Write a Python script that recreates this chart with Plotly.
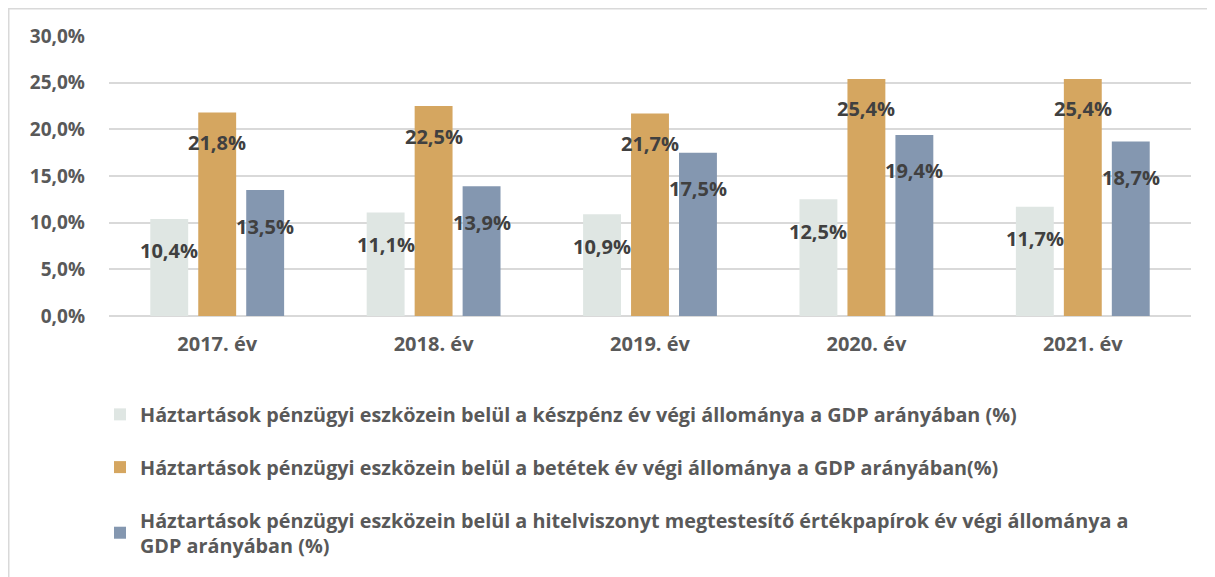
import plotly.graph_objects as go

categories = ["2017. év", "2018. év", "2019. év", "2020. év", "2021. év"]
keszpenz = [10.4, 11.1, 10.9, 12.5, 11.7]
betetek = [21.8, 22.5, 21.7, 25.4, 25.4]
hitelpapir = [13.5, 13.9, 17.5, 19.4, 18.7]
series_names = [
    "Háztartások pénzügyi eszközein belül a készpénz év végi állománya a GDP arányában (%)",
    "Háztartások pénzügyi eszközein belül a betétek év végi állománya a GDP arányában(%)",
    "Háztartások pénzügyi eszközein belül a hitelviszonyt megtestesítő értékpapírok év végi állománya a<br>GDP arányában (%)",
]
y_ticks = [0, 5, 10, 15, 20, 25, 30]
y_tick_labels = ["0,0%", "5,0%", "10,0%", "15,0%", "20,0%", "25,0%", "30,0%"]

colors = ["#dfe6e3", "#d5a660", "#8497b0"]
FONT = "Open Sans"
series = [keszpenz, betetek, hitelpapir]

W, H = 1207, 569
L, R, T, B = 101, 24, 28, 261
PW, PH = W - L - R, H - T - B

fig = go.Figure()
for i, (vals, name, col) in enumerate(zip(series, series_names, colors)):
    fig.add_trace(go.Bar(
        x=categories, y=vals, name=name, marker=dict(color=col, line=dict(width=0)),
        legendgroup=f"g{i}", hoverinfo="skip",
    ))

xshifts = [-48, 0, 48]
yshifts = [-32, -30, -36]
annotations = []
for i, vals in enumerate(series):
    for c, v in zip(categories, vals):
        annotations.append(dict(
            x=c, y=v, xref="x", yref="y", text=f"{v:.1f}%".replace(".", ","),
            showarrow=False, xshift=xshifts[i], yshift=yshifts[i], yanchor="middle",
            font=dict(family=FONT, size=20, color="#404040", weight="bold"),
        ))

fig.update_layout(
    width=W, height=H,
    margin=dict(l=L, r=R, t=T, b=B, autoexpand=False),
    paper_bgcolor="white", plot_bgcolor="white",
    barmode="group", bargap=0.335, bargroupgap=0.21,
    separators=", ",
    font=dict(family=FONT, color="#595959"),
    annotations=annotations,
    showlegend=True,
    legend=dict(
        xref="container", yref="container", x=92 / W, y=1 - 387 / H,
        xanchor="left", yanchor="top", traceorder="grouped", tracegroupgap=24,
        font=dict(family=FONT, size=19.8, color="#595959", weight="bold"),
        bgcolor="rgba(0,0,0,0)",
    ),
    shapes=[dict(type="rect", xref="paper", yref="paper", x0=(0.75 - L) / PW, x1=1 + 40 / PW,
                 y0=-(B + 20) / PH, y1=1 + (T - 0.75) / PH, line=dict(color="#d9d9d9", width=1.5),
                 fillcolor="rgba(0,0,0,0)", layer="below")],
)
fig.update_xaxes(
    showgrid=False, showline=False, ticks="", tickangle=0, automargin=False,
    tickfont=dict(family=FONT, size=20, color="#595959", weight="bold"),
    ticklabelstandoff=14,
)
fig.update_yaxes(
    range=[0, 30], tickvals=y_ticks, ticktext=y_tick_labels, automargin=False,
    showgrid=True, gridcolor="#d9d9d9", gridwidth=1.5,
    zeroline=True, zerolinecolor="#d9d9d9", zerolinewidth=2,
    showline=False, ticks="",
    tickfont=dict(family=FONT, size=19, color="#595959", weight="bold"),
    ticklabelstandoff=23,
)

fig.write_html("out.html")
